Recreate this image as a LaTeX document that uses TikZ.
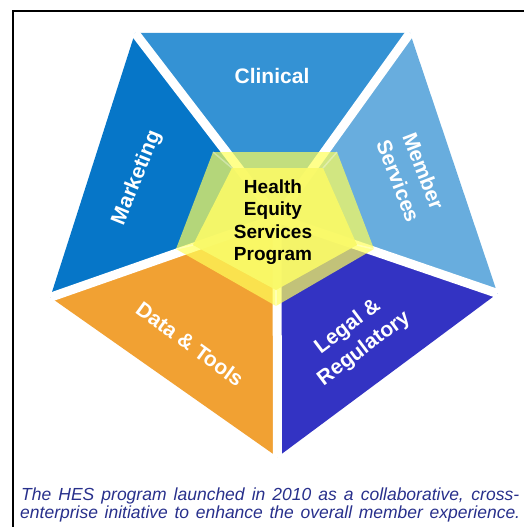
\documentclass[tikz,border=0pt]{standalone}
\usepackage{fontspec}
\setmainfont{Liberation Sans}
\definecolor{clinical}{RGB}{52,146,212}
\definecolor{marketing}{RGB}{6,118,200}
\definecolor{member}{RGB}{104,173,222}
\definecolor{datatools}{RGB}{241,161,51}
\definecolor{legal}{RGB}{51,51,195}
\definecolor{hesyellow}{RGB}{255,255,90}
\definecolor{hesface}{RGB}{249,249,104}
\definecolor{capblue}{RGB}{40,48,140}
\tikzset{
  gap/.style={draw=white, line width=9pt},
  seglabel/.style={text=white, font=\fontsize{21}{27}\selectfont\bfseries, align=center, inner sep=0pt},
  hestext/.style={font=\fontsize{19}{22.5}\selectfont\bfseries, align=center, inner sep=0pt},
  capline/.style={text=capblue, font=\fontsize{17.5}{19}\selectfont\itshape, anchor=base west, inner sep=0pt},
}
\begin{document}
\begin{tikzpicture}[x=1pt, y=-1pt]
            \clip (0,0) rectangle (524,527);
            \fill[white] (0,0) rectangle (524,527);
            \draw[line width=1.8pt] (13,11) rectangle (540,545);
            % outer corners and centre of the pentagon
            \coordinate (A) at (135,33);
            \coordinate (B) at (410,33);
            \coordinate (C) at (497.5,293.5);
            \coordinate (D) at (277.5,457);
            \coordinate (E) at (50.3,297.3);
            \coordinate (O) at (277,218);
            \fill[clinical] (A) -- (B) -- (O) -- cycle;
            \fill[member] (B) -- (C) -- (O) -- cycle;
            \fill[legal] (C) -- (D) -- (O) -- cycle;
            \fill[datatools] (D) -- (E) -- (O) -- cycle;
            \fill[marketing] (E) -- (A) -- (O) -- cycle;
            \path[gap] (O) edge (A) (O) edge (B) (O) edge (C) (O) edge (D) (O) edge (E);
            % yellow centre piece
            \coordinate (Y1) at (213,152);
            \coordinate (Y2) at (337,152);
            \coordinate (Y3) at (374,249);
            \coordinate (Y4) at (276,306);
            \coordinate (Y5) at (176,249);
            \coordinate (F1) at (232,168);
            \coordinate (F2) at (323,168);
            \coordinate (F3) at (357,245);
            \coordinate (F4) at (276,290);
            \coordinate (F5) at (193,245);
            \fill[hesyellow, opacity=0.7] (Y1) -- (Y2) -- (Y3) -- (Y4) -- (Y5) -- cycle;
            \fill[hesface, opacity=0.92] (F1) -- (F2) -- (F3) -- (F4) -- (F5) -- cycle;
            \path[draw=white, opacity=0.35, line width=1.5pt] (Y1) edge (F1) (Y2) edge (F2) (Y3) edge (F3) (Y4) edge (F4) (Y5) edge (F5);
            % labels
            \node[seglabel] (clin) at (272,76) {Clinical};
            \node[seglabel, rotate=68] (mark) at (137,178) {Marketing};
            \node[seglabel, rotate=-69] (memb) at (411,176) {Member\\Services};
            \node[seglabel, rotate=-36] (data) at (190,344) {Data \& Tools};
            \node[seglabel, rotate=37] (legl) at (356,338) {Legal \&\\Regulatory};
            \node[hestext] (hes) at (273,222) {Health\\Equity\\Services\\Program};
            \node[capline] (cap1) at (21,500) {\makebox[498pt][s]{The HES program launched in 2010 as a collaborative, cross-}};
            \node[capline] (cap2) at (20,518) {\makebox[500pt][s]{enterprise initiative to enhance the overall member experience.}};
        \end{tikzpicture}
\end{document}
